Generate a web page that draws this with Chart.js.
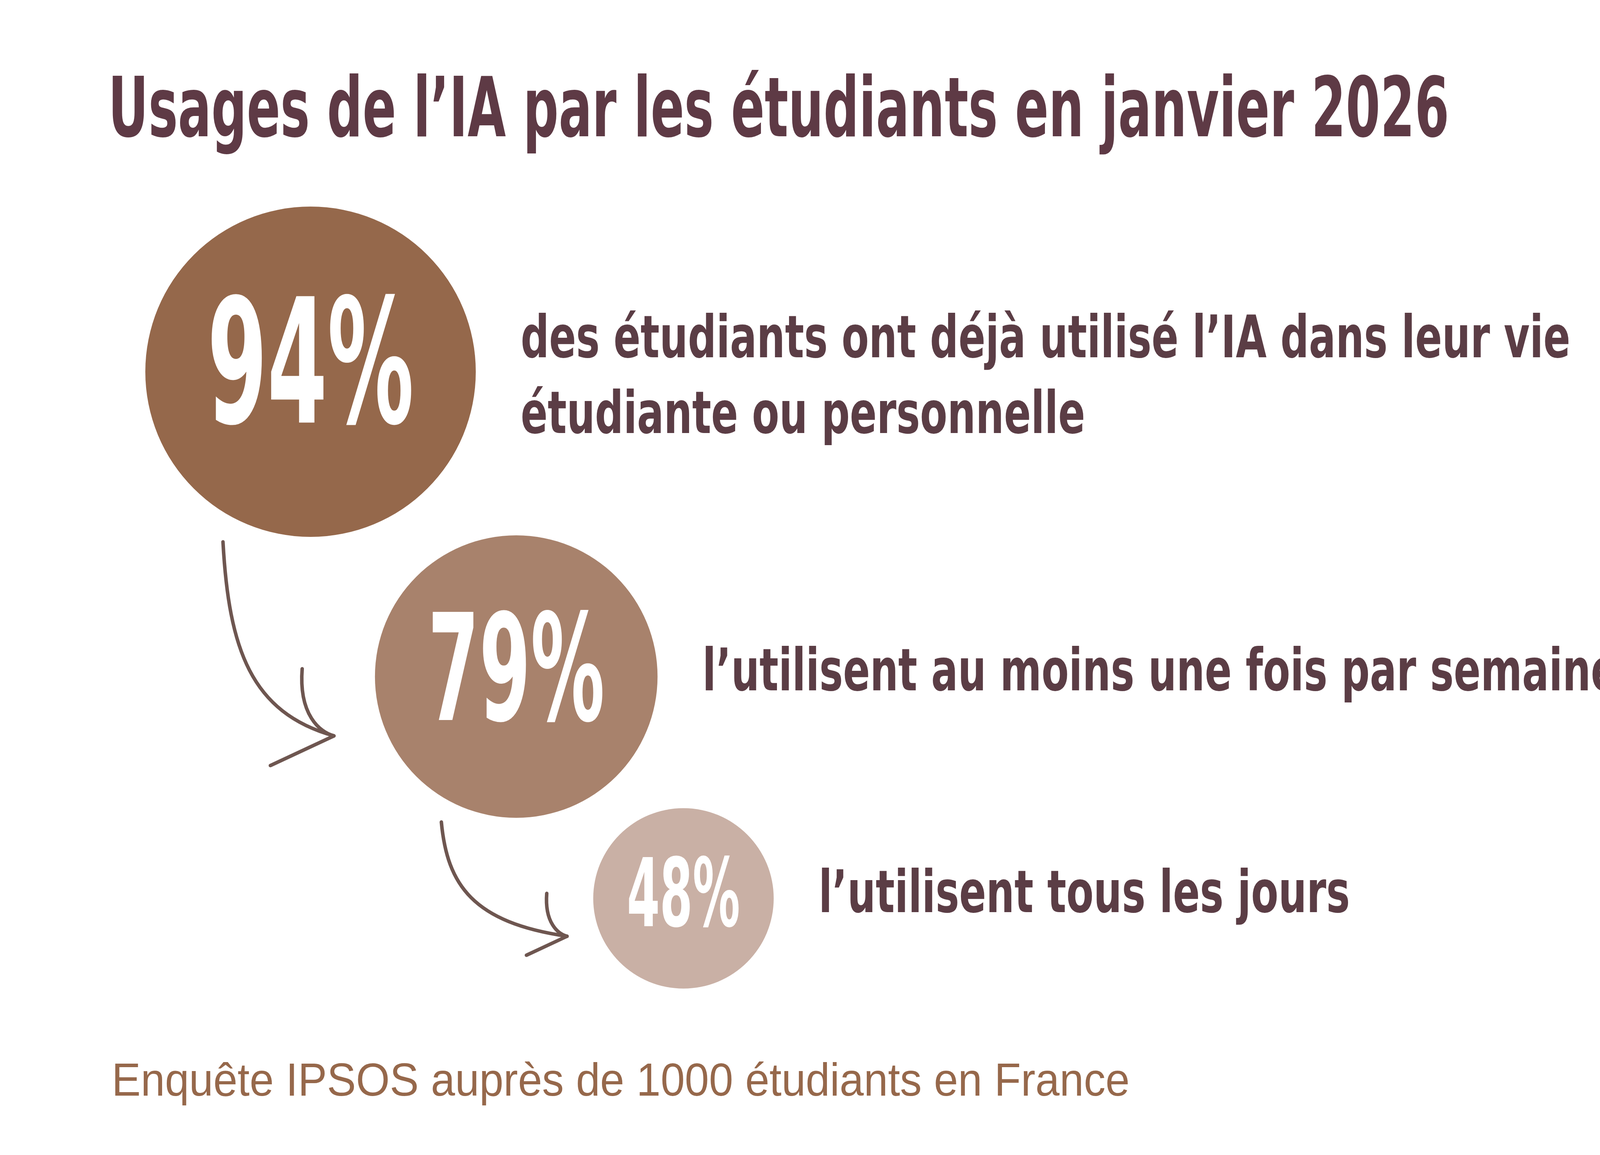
<!DOCTYPE html>
<html>
<head>
<meta charset="utf-8">
<script src="https://cdn.jsdelivr.net/npm/chart.js@4"></script>
<style>
  html, body { margin: 0; padding: 0; background: #fff; }
  canvas { display: block; }
</style>
</head>
<body>
<canvas id="myChart" width="4436" height="2958"></canvas>
<script>
// data
const shares = [94, 79, 48];
const shareLabels = ['94%', '79%', '48%'];
const descriptions = [
    ['des étudiants ont déjà utilisé l’IA dans leur vie', 'étudiante ou personnelle'],
    ['l’utilisent au moins une fois par semaine'],
    ['l’utilisent tous les jours']
];
const title = 'Usages de l’IA par les étudiants en janvier 2026';
const source = 'Enquête IPSOS auprès de 1000 étudiants en France';

const circleColors = ['#95684b', '#a8826c', '#c9b0a5'];
const textColor = '#5b3d45';
const boldFont = '"DejaVu Sans", sans-serif';

// layout: bubble size from value, chained diagonally
function radiusFor(v) { return 423 * Math.pow(v / 94, 0.9); }
const radii = shares.map(radiusFor);
const angles = [0, 56, 53].map(a => a * Math.PI / 180);
const points = [];
let cx = 795, cy = 952;
shares.forEach((v, i) => {
    if (i > 0) {
        const d = 1.2 * (radii[i - 1] + radii[i]);
        cx += d * Math.cos(angles[i]);
        cy += d * Math.sin(angles[i]);
    }
    points.push({ x: cx, y: cy, r: radii[i] });
});

// draw text horizontally squeezed so it has a given width
function drawNarrow(ctx, text, x, y, squeeze, align) {
    ctx.save();
    ctx.translate(x, y);
    ctx.scale(squeeze, 1);
    ctx.textAlign = align || 'left';
    ctx.fillText(text, 0, 0);
    ctx.restore();
}

const decorations = {
    id: 'decorations',
    afterDatasetsDraw(chart) {
        const ctx = chart.ctx;
        const meta = chart.getDatasetMeta(0);
        ctx.save();
        ctx.textBaseline = 'alphabetic';

        // title
        ctx.fillStyle = '#5e3a45';
        ctx.font = 'bold 212px ' + boldFont;
        drawNarrow(ctx, title, 277, 349, 3433 / ctx.measureText(title).width);

        // squeeze used for descriptions
        ctx.font = 'bold 150px ' + boldFont;
        const descSqueeze = 2687 / ctx.measureText(descriptions[0][0]).width;
        ctx.font = 'bold 100px ' + boldFont;
        const pctSqueeze = 529 / (ctx.measureText('94%').width * 4.44);

        meta.data.forEach((el, i) => {
            const r = radii[i];
            const size = r * 1.05;
            ctx.fillStyle = '#ffffff';
            ctx.font = 'bold ' + Math.round(size) + 'px ' + boldFont;
            drawNarrow(ctx, shareLabels[i], el.x, el.y + size * 0.36 - r * 0.07, pctSqueeze, 'center');

            ctx.fillStyle = textColor;
            ctx.font = 'bold 150px ' + boldFont;
            const lines = descriptions[i];
            lines.forEach((t, k) => {
                const by = el.y + 35 - (lines.length - 1) * 72 + k * 194;
                drawNarrow(ctx, t, el.x + r + 115, by, descSqueeze);
            });
        });

        // arrows between circles
        ctx.strokeStyle = '#6e5650';
        ctx.lineCap = 'round';
        ctx.lineJoin = 'round';
        for (let i = 0; i < meta.data.length - 1; i++) {
            const a = meta.data[i], b = meta.data[i + 1];
            const ra = radii[i], rb = radii[i + 1];
            const sx = a.x - ra * 0.53, sy = a.y + ra * 1.03;
            const ex = b.x - rb * 1.29, ey = b.y + rb * 0.42;
            ctx.lineWidth = 9;
            ctx.beginPath();
            ctx.moveTo(sx, sy);
            ctx.bezierCurveTo(sx + 15, sy + (ey - sy) * 0.55, sx + (ex - sx) * 0.25, ey - (ey - sy) * 0.12, ex, ey);
            ctx.stroke();
            const h = rb * 0.5;
            ctx.beginPath();
            ctx.moveTo(ex - h * 0.45, ey - h * 0.95);
            ctx.bezierCurveTo(ex - h * 0.5, ey - h * 0.3, ex - h * 0.2, ey - h * 0.05, ex, ey);
            ctx.lineTo(ex - h * 0.9, ey + h * 0.42);
            ctx.stroke();
        }

        // source
        ctx.fillStyle = '#96684b';
        ctx.font = '118px "Liberation Sans", "Noto Sans", sans-serif';
        drawNarrow(ctx, source, 286, 2806, 2606 / ctx.measureText(source).width);
        ctx.restore();
    }
};

new Chart(document.getElementById('myChart'), {
    type: 'bubble',
    data: {
        datasets: [{
            data: points,
            backgroundColor: circleColors,
            borderWidth: 0,
            hoverRadius: 0
        }]
    },
    options: {
        responsive: false,
        animation: false,
        devicePixelRatio: 1,
        layout: { padding: 0, autoPadding: false },
        events: [],
        scales: {
            x: { type: 'linear', min: 0, max: 4436, display: false },
            y: { type: 'linear', min: 0, max: 2958, reverse: true, display: false }
        },
        plugins: { legend: { display: false }, tooltip: { enabled: false } }
    },
    plugins: [decorations]
});
</script>
</body>
</html>
